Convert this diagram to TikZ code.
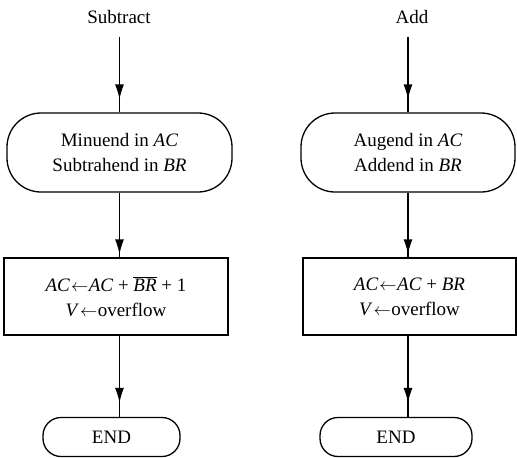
\documentclass[tikz,border=0pt]{standalone}
\usepackage{fontspec}
\setmainfont{Liberation Serif}
\usetikzlibrary{arrows.meta,decorations.markings}
\newcommand{\getsarrow}{\kern1pt$\leftarrow$\kern0.5pt}
\tikzset{
  base/.style={draw, line width=1.3pt, inner sep=0pt, align=center, font=\fontsize{19}{25}\selectfont},
  startbox/.style={base, rounded corners=34pt},
  opbox/.style={base},
  endbox/.style={base, rounded corners=18pt},
  lbl/.style={font=\fontsize{19}{22}\selectfont},
  conn/.style={line width=1.3pt, postaction={decorate},
    decoration={markings, mark=at position -#1 with {\arrow{Latex[length=15pt,width=9pt]}}}},
}
\begin{document}
\begin{tikzpicture}[x=1pt,y=-1pt]
\useasboundingbox (0,0) rectangle (517,458);
\node[lbl] (sub) at (119,17) {Subtract};
\node[lbl] (add) at (412,17) {Add};
\node[startbox, minimum width=225pt, minimum height=79pt] (ls) at (119.5,152.5)
  {Minuend in \textit{AC}\\Subtrahend in \textit{BR}};
\node[startbox, minimum width=214pt, minimum height=79pt] (rs) at (408,152.5)
  {Augend in \textit{AC}\\Addend in \textit{BR}};
\node[opbox, minimum width=224pt, minimum height=77pt] (lo) at (116,296.5)
  {\textit{AC}\getsarrow\textit{AC} + $\overline{\hbox{\textit{BR}}}$ + 1\\\textit{V}\getsarrow overflow};
\node[opbox, minimum width=213pt, minimum height=77pt] (ro) at (409.5,296.5)
  {\textit{AC}\getsarrow\textit{AC} + \textit{BR}\\\textit{V}\getsarrow overflow};
\node[endbox, minimum width=137pt, minimum height=39pt] (le) at (111.5,437) {END};
\node[endbox, minimum width=152pt, minimum height=39pt] (re) at (396,437) {END};
\draw[conn=13pt] ([yshift=-10pt]sub.south -| ls.north) -- (ls.north);
\draw[conn=13pt] ([yshift=-10pt]add.south -| rs.north) -- (rs.north);
\draw[conn=3pt] (ls.south) -- (ls.south |- lo.north);
\draw[conn=3pt] (rs.south) -- (rs.south |- ro.north);
\draw[conn=14pt] (ls.south |- lo.south) -- (ls.south |- le.north);
\draw[conn=14pt] (rs.south |- ro.south) -- (rs.south |- re.north);
\end{tikzpicture}
\end{document}
